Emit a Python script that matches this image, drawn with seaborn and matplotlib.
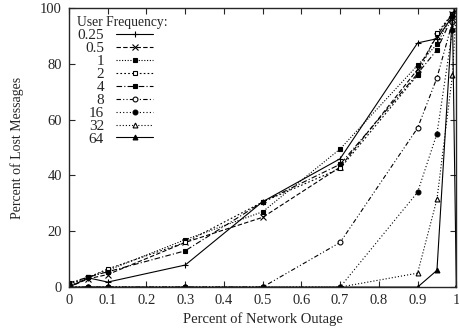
import matplotlib
matplotlib.use("Agg")
import matplotlib.pyplot as plt
import seaborn as sns
import pandas as pd

sns.set_style("ticks")
plt.rcParams["font.family"] = ["Liberation Serif", "DejaVu Serif"]

# percent of network outage (x axis)
outage = [0, 0.05, 0.1, 0.3, 0.5, 0.7, 0.9, 0.95, 0.99, 1.0]

# percent of lost messages for each user frequency
freq_labels = ["0.25", "0.5", "1", "2", "4", "8", "16", "32", "64"]
lost_025 = [0, 3.3, 1.8, 7.9, 30.6, 46, 87.5, 89, 97, 100]
lost_05 = [0, 3, 4.5, 16, 25, 43, 78, 90, 98, 100]
lost_1 = [0.5, 3.5, 6, 17, 27, 49.5, 79.5, 87, 98, 100]
lost_2 = [1, 3.5, 6.5, 16, 30.5, 42.5, 76, 91, 98, 100]
lost_4 = [1.5, 3.6, 5.5, 13, 30.5, 44, 76.5, 85, 97, 100]
lost_8 = [0, 0, 0, 0, 0, 16, 57, 75, 95, 100]
lost_16 = [0, 0, 0, 0, 0, 0, 34, 55, 92, 100]
lost_32 = [0, 0, 0, 0, 0, 0, 5, 31.5, 76, 100]
lost_64 = [0, 0, 0, 0, 0, 0, 0, 6, 98, 0]

series = [lost_025, lost_05, lost_1, lost_2, lost_4, lost_8, lost_16, lost_32, lost_64]

# gnuplot-like line types and point types
styles = [
    ("-", "+", "black"),
    ((0, (4, 2)), "x", "black"),
    ((0, (1, 1.5)), "s", "black"),
    ((0, (1.5, 2)), "s", "white"),
    ((0, (5, 2, 1, 2)), "s", "black"),
    ((0, (4, 2, 1, 2, 1, 2)), "o", "white"),
    ((0, (1, 2)), "o", "black"),
    ((0, (1, 1.8)), "^", "white"),
    ("-", "^", "black"),
]

fig, ax = plt.subplots(figsize=(4.6, 3.35), dpi=100)
fig.subplots_adjust(left=0.15, right=0.992, top=0.976, bottom=0.143)

for label, vals, (ls, mk, face) in zip(freq_labels, series, styles):
    df = pd.DataFrame({"outage": outage, "lost": vals})
    ms = 3.5 if mk in ("s", "o", "^") else 4.5
    if label == "1":
        ms = 3
    sns.lineplot(data=df, x="outage", y="lost", ax=ax, color="black",
                 linestyle=ls, linewidth=0.8, marker=mk, markersize=ms,
                 markerfacecolor=face, markeredgecolor="black",
                 markeredgewidth=0.8, label=label, sort=False)

ax.set_xlim(0, 1)
ax.set_ylim(0, 100)
ax.set_xticks([0, 0.1, 0.2, 0.3, 0.4, 0.5, 0.6, 0.7, 0.8, 0.9, 1])
ax.set_xticklabels(["0", "0.1", "0.2", "0.3", "0.4", "0.5", "0.6", "0.7", "0.8", "0.9", "1"])
ax.set_yticks([0, 20, 40, 60, 80, 100])
ax.tick_params(direction="in", top=True, right=True, labelsize=10.5,
               length=4, width=0.8, pad=5)
for sp in ax.spines.values():
    sp.set_linewidth(1.0)
ax.set_xlabel("Percent of Network Outage", fontsize=10.5)
ax.set_ylabel("Percent of Lost Messages", fontsize=10, labelpad=12)

leg = ax.legend(title="User Frequency:", loc="upper left", frameon=False,
                markerfirst=False, fontsize=11, title_fontsize=9.8,
                alignment="left", handlelength=2.4, labelspacing=-0.05,
                borderaxespad=0.15, handletextpad=0.8)

fig.savefig("out.png", dpi=100)
